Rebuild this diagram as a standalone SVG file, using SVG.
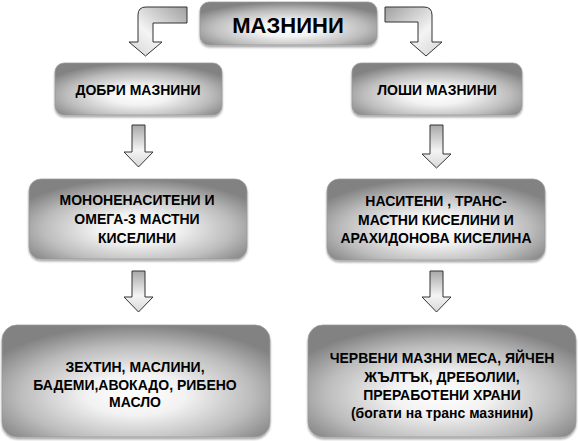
<svg xmlns="http://www.w3.org/2000/svg" width="578" height="441" viewBox="0 0 578 441">
<defs>
<radialGradient id="boxg" cx="50%" cy="62%" r="62%" fx="50%" fy="62%">
<stop offset="0" stop-color="#ffffff"/>
<stop offset="0.3" stop-color="#f2f2f2"/>
<stop offset="0.7" stop-color="#bcbcbc"/>
<stop offset="1" stop-color="#828282"/>
</radialGradient>
<linearGradient id="arrv" x1="0" y1="0" x2="0" y2="1">
<stop offset="0" stop-color="#a8a8a8"/>
<stop offset="0.6" stop-color="#f4f4f4"/>
<stop offset="1" stop-color="#d8d8d8"/>
</linearGradient>
<linearGradient id="arrl" x1="1" y1="0" x2="0" y2="1">
<stop offset="0" stop-color="#a0a0a0"/>
<stop offset="0.6" stop-color="#f4f4f4"/>
<stop offset="1" stop-color="#d4d4d4"/>
</linearGradient>
<linearGradient id="arrr" x1="0" y1="0" x2="1" y2="1">
<stop offset="0" stop-color="#a0a0a0"/>
<stop offset="0.6" stop-color="#f4f4f4"/>
<stop offset="1" stop-color="#d4d4d4"/>
</linearGradient>
<filter id="sh" x="-5%" y="-5%" width="110%" height="115%">
<feGaussianBlur in="SourceAlpha" stdDeviation="1"/>
<feOffset dx="0" dy="1.5" result="b"/>
<feComponentTransfer><feFuncA type="linear" slope="0.35"/></feComponentTransfer>
<feMerge><feMergeNode/><feMergeNode in="SourceGraphic"/></feMerge>
</filter>
</defs>
<style>
.box{fill:url(#boxg);stroke:#9a9a9a;stroke-width:0.8;filter:url(#sh)}
.t{font-family:"Liberation Sans",Arial,sans-serif;font-weight:bold;fill:#000;text-anchor:middle;font-size:14px}
.title{font-size:22px}
.arr{stroke:#333;stroke-width:1;stroke-linejoin:miter}
</style>
<rect width="578" height="441" fill="#ffffff"/>
<g id="connectors">
<path class="arr" fill="url(#arrl)" d="M187,7 L146,7 Q138,7 138,15 L138,42 L129,42 L145.5,56 L162,42 L153,42 L153,23 L187,23 Z"/>
<path class="arr" fill="url(#arrr)" d="M385,7 L424,7 Q432,7 432,15 L432,42 L442,42 L426,56 L410,42 L418,42 L418,22 L385,22 Z"/>
<path class="arr" fill="url(#arrv)" d="M132,125 L145,125 L145,152 L153,152 L138.5,167 L124,152 L132,152 Z"/>
<path class="arr" fill="url(#arrv)" d="M430,125 L443,125 L443,154 L451,154 L436.5,168 L422,154 L430,154 Z"/>
<path class="arr" fill="url(#arrv)" d="M132,271 L145,271 L145,297 L153,297 L138.5,312 L124,297 L132,297 Z"/>
<path class="arr" fill="url(#arrv)" d="M430,271 L443,271 L443,297 L451,297 L436.5,312 L422,297 L430,297 Z"/>
</g>
<g id="node-root">
<rect class="box" x="200" y="2" width="177" height="43" rx="9"/>
<text class="t title" x="288" y="33">МАЗНИНИ</text>
</g>
<g id="node-good">
<rect class="box" x="55" y="63" width="167" height="52" rx="9"/>
<text class="t" x="138" y="95">ДОБРИ МАЗНИНИ</text>
</g>
<g id="node-bad">
<rect class="box" x="352" y="63" width="170" height="52" rx="9"/>
<text class="t" x="437" y="95">ЛОШИ МАЗНИНИ</text>
</g>
<g id="node-good-acids">
<rect class="box" x="29" y="179" width="218" height="80" rx="12"/>
<text class="t" x="137" y="205">МОНОНЕНАСИТЕНИ И</text>
<text class="t" x="137" y="224">ОМЕГА-3 МАСТНИ</text>
<text class="t" x="137" y="243">КИСЕЛИНИ</text>
</g>
<g id="node-bad-acids">
<rect class="box" x="327" y="179" width="218" height="81" rx="12"/>
<text class="t" x="436" y="206">НАСИТЕНИ , ТРАНС-</text>
<text class="t" x="436" y="225">МАСТНИ КИСЕЛИНИ И</text>
<text class="t" x="436" y="243">АРАХИДОНОВА КИСЕЛИНА</text>
</g>
<g id="node-good-foods">
<rect class="box" x="2" y="325" width="268" height="112" rx="15"/>
<text class="t" x="135" y="372">ЗЕХТИН, МАСЛИНИ,</text>
<text class="t" x="135" y="390">БАДЕМИ,АВОКАДО, РИБЕНО</text>
<text class="t" x="135" y="407">МАСЛО</text>
</g>
<g id="node-bad-foods">
<rect class="box" x="308" y="325" width="268" height="112" rx="15"/>
<text class="t" x="442" y="363">ЧЕРВЕНИ МАЗНИ МЕСА, ЯЙЧЕН</text>
<text class="t" x="442" y="382">ЖЪЛТЪК, ДРЕБОЛИИ,</text>
<text class="t" x="442" y="400">ПРЕРАБОТЕНИ ХРАНИ</text>
<text class="t" x="442" y="418">(богати на транс мазнини)</text>
</g>
</svg>
